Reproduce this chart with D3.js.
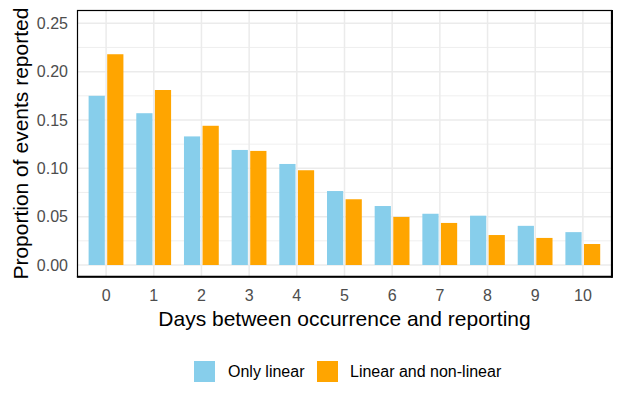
<!DOCTYPE html>
<html><head><meta charset="utf-8">
<script src="https://cdn.jsdelivr.net/npm/d3@7"></script>
<style>html,body{margin:0;padding:0;background:#fff;}svg{display:block;font-family:"Liberation Sans",Arial,sans-serif;}</style>
</head><body>
<svg id="chart" width="622" height="405"></svg>
<script>
const categories = ["0","1","2","3","4","5","6","7","8","9","10"];
const seriesNames = ["Only linear","Linear and non-linear"];
const onlyLinear = [0.175,0.157,0.133,0.119,0.1045,0.0765,0.061,0.053,0.051,0.0405,0.034];
const linearNonLinear = [0.218,0.181,0.144,0.118,0.098,0.068,0.0497,0.0435,0.031,0.028,0.0217];
const yTicks = [0,0.05,0.10,0.15,0.20,0.25];
const yMinor = [0.025,0.075,0.125,0.175,0.225];
const colors = ["#87CEEB","#FFA500"];

const svg = d3.select("#chart");
const P = {left:77.5, right:611.5, top:10.5, bottom:276.7};

const x = d3.scaleBand().domain(categories).range([P.left, P.right]).paddingInner(0).paddingOuter(0.1);
const y = d3.scaleLinear().domain([0,0.25]).range([265,23.3]);
const step = x.step();
const sub = d3.scaleOrdinal().domain(seriesNames).range([-0.197, 0.193]);
const bw = 0.34*step;

const g = svg.append("g");
// grid
g.selectAll(".minor").data(yMinor).join("line")
  .attr("x1",P.left).attr("x2",P.right).attr("y1",d=>y(d)).attr("y2",d=>y(d))
  .attr("stroke","#ebebeb").attr("stroke-width",0.8);
g.selectAll(".major").data(yTicks).join("line")
  .attr("x1",P.left).attr("x2",P.right).attr("y1",d=>y(d)).attr("y2",d=>y(d))
  .attr("stroke","#ebebeb").attr("stroke-width",1.5);
g.selectAll(".vgrid").data(categories).join("line")
  .attr("x1",d=>x(d)+x.bandwidth()/2).attr("x2",d=>x(d)+x.bandwidth()/2)
  .attr("y1",P.top).attr("y2",P.bottom)
  .attr("stroke","#ebebeb").attr("stroke-width",1.5);

// bars
const data = [];
categories.forEach((c,i)=>{
  data.push({c, s:seriesNames[0], v:onlyLinear[i], col:colors[0]});
  data.push({c, s:seriesNames[1], v:linearNonLinear[i], col:colors[1]});
});
g.selectAll(".bar").data(data).join("rect")
  .attr("x",d=>x(d.c)+x.bandwidth()/2 + sub(d.s)*step - bw/2)
  .attr("width",bw)
  .attr("y",d=>y(d.v)).attr("height",d=>y(0)-y(d.v))
  .attr("fill",d=>d.col);

// border
g.append("rect").attr("x",P.left).attr("y",P.top).attr("width",P.right-P.left).attr("height",P.bottom-P.top)
  .attr("fill","none").attr("stroke","#000").attr("stroke-width",1.2);
g.append("line").attr("x1",P.left-0.6).attr("x2",P.right+1).attr("y1",P.bottom).attr("y2",P.bottom).attr("stroke","#000").attr("stroke-width",2);
g.append("line").attr("x1",P.right+0.5).attr("x2",P.right+0.5).attr("y1",P.top-0.6).attr("y2",P.bottom+1).attr("stroke","#000").attr("stroke-width",2);

// y tick labels
svg.append("g").selectAll("text").data(yTicks).join("text")
  .attr("x",68).attr("y",d=>y(d)).attr("dy","0.36em")
  .attr("text-anchor","end").attr("font-size",16).attr("fill","#4d4d4d")
  .text(d=>d3.format(".2f")(d));
// x tick labels
svg.append("g").selectAll("text").data(categories).join("text")
  .attr("x",d=>x(d)+x.bandwidth()/2).attr("y",301)
  .attr("text-anchor","middle").attr("font-size",16).attr("fill","#4d4d4d")
  .text(d=>d);

// axis titles
svg.append("text").attr("x",(P.left+P.right)/2).attr("y",326)
  .attr("text-anchor","middle").attr("font-size",21).attr("fill","#000")
  .text("Days between occurrence and reporting");
svg.append("text").attr("transform",`translate(28,${(P.top+P.bottom)/2}) rotate(-90)`)
  .attr("text-anchor","middle").attr("font-size",21).attr("fill","#000")
  .text("Proportion of events reported");

// legend
const legend = [{name:seriesNames[0], col:colors[0], kx:194, tx:228},
                {name:seriesNames[1], col:colors[1], kx:317, tx:350}];
const lg = svg.append("g").selectAll("g").data(legend).join("g");
lg.append("rect").attr("x",d=>d.kx).attr("y",361).attr("width",21).attr("height",21).attr("fill",d=>d.col);
lg.append("text").attr("x",d=>d.tx).attr("y",371.5).attr("dy","0.36em")
  .attr("font-size",16).attr("fill","#000").text(d=>d.name);
</script>
</body></html>
